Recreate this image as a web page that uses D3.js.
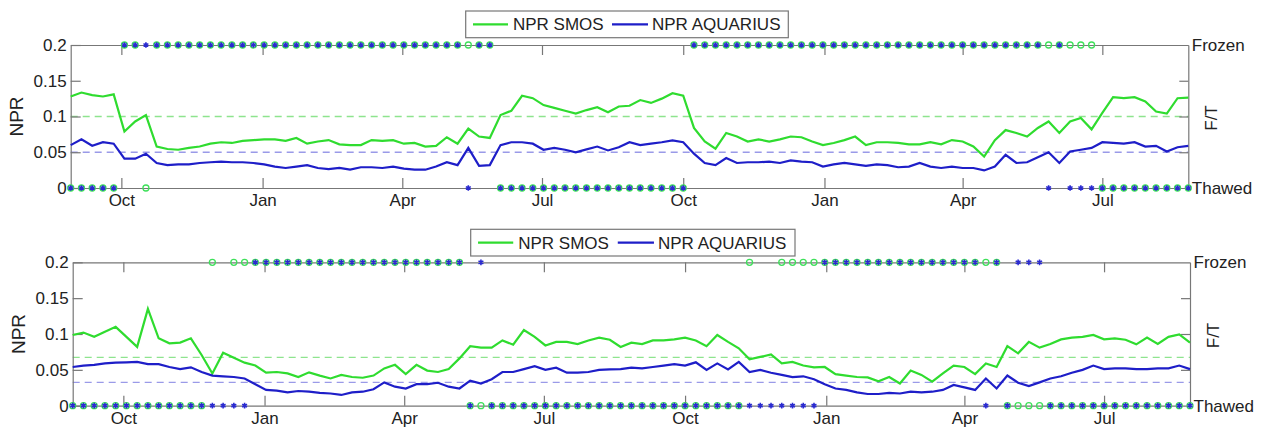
<!DOCTYPE html>
<html>
<head>
<meta charset="utf-8">
<script src="https://cdn.jsdelivr.net/npm/d3@7"></script>
<style>
  body { margin: 0; background: #fff; }
  text { font-family: "Liberation Sans", Arial, sans-serif; fill: #222; }
</style>
</head>
<body>
<svg id="chart"></svg>
<script>
// weekly NPR, Aug 29 2011 .. Aug 26 2013 (105 weeks)
var startDate = new Date(Date.UTC(2011, 7, 29)),
    nWeeks = 105;

// top panel
var smosTop = [0.128,0.1335,0.130,0.128,0.131,0.079,0.093,0.102,0.058,0.0545,
  0.0535,0.056,0.058,0.062,0.064,0.063,0.066,0.067,0.068,0.068,
  0.066,0.070,0.062,0.065,0.067,0.061,0.060,0.060,0.067,0.066,
  0.067,0.062,0.063,0.058,0.059,0.071,0.062,0.083,0.072,0.070,
  0.102,0.108,0.129,0.1256,0.116,0.112,0.108,0.104,0.109,0.113,
  0.106,0.114,0.115,0.123,0.119,0.125,0.1325,0.129,0.084,0.065,
  0.055,0.077,0.072,0.065,0.068,0.065,0.068,0.072,0.071,0.065,
  0.060,0.063,0.067,0.072,0.060,0.064,0.064,0.063,0.061,0.061,
  0.064,0.061,0.067,0.065,0.058,0.044,0.067,0.081,0.077,0.072,
  0.084,0.093,0.077,0.093,0.098,0.082,0.105,0.127,0.1256,0.127,
  0.121,0.107,0.104,0.1256,0.1265];
var aquaTop = [0.060,0.068,0.059,0.064,0.062,0.041,0.041,0.048,0.035,0.032,
  0.033,0.033,0.035,0.036,0.037,0.036,0.036,0.035,0.033,0.030,
  0.028,0.030,0.032,0.028,0.0265,0.028,0.0256,0.029,0.029,0.028,
  0.030,0.027,0.0256,0.0256,0.030,0.036,0.032,0.056,0.031,0.032,
  0.060,0.064,0.064,0.062,0.0535,0.056,0.0535,0.050,0.054,0.058,
  0.0525,0.057,0.064,0.060,0.062,0.064,0.0665,0.064,0.048,0.035,
  0.032,0.042,0.035,0.036,0.036,0.037,0.035,0.0386,0.037,0.036,
  0.030,0.033,0.035,0.033,0.031,0.033,0.032,0.029,0.030,0.035,
  0.030,0.028,0.030,0.028,0.028,0.0246,0.030,0.0465,0.035,0.036,
  0.043,0.050,0.035,0.051,0.0535,0.056,0.064,0.063,0.062,0.064,
  0.058,0.059,0.051,0.057,0.059];

// bottom panel
var smosBot = [0.0986,0.102,0.096,0.103,0.110,0.096,0.082,0.135,0.094,0.087,
  0.088,0.094,0.0707,0.045,0.074,0.067,0.060,0.056,0.046,0.047,
  0.045,0.040,0.0465,0.042,0.038,0.043,0.040,0.039,0.042,0.052,
  0.057,0.044,0.057,0.049,0.047,0.051,0.066,0.083,0.081,0.081,
  0.091,0.085,0.1056,0.096,0.084,0.089,0.089,0.086,0.091,0.095,
  0.092,0.082,0.088,0.086,0.091,0.091,0.0925,0.095,0.091,0.083,
  0.0986,0.089,0.080,0.0646,0.068,0.0716,0.059,0.061,0.056,0.0535,
  0.054,0.044,0.042,0.040,0.0395,0.034,0.040,0.031,0.049,0.043,
  0.0335,0.045,0.056,0.054,0.044,0.059,0.054,0.083,0.073,0.089,
  0.081,0.086,0.0925,0.095,0.096,0.0986,0.0925,0.094,0.092,0.0856,
  0.095,0.086,0.096,0.0995,0.088];
var aquaBot = [0.054,0.056,0.057,0.059,0.060,0.0605,0.061,0.058,0.058,0.054,
  0.051,0.0535,0.047,0.042,0.041,0.040,0.038,0.030,0.022,0.021,
  0.0186,0.0205,0.0195,0.018,0.017,0.015,0.0186,0.0195,0.023,0.0325,
  0.0265,0.024,0.030,0.030,0.032,0.0265,0.024,0.035,0.031,0.037,
  0.047,0.047,0.051,0.055,0.050,0.053,0.046,0.046,0.047,0.050,
  0.0507,0.051,0.053,0.052,0.054,0.056,0.058,0.056,0.0605,0.050,
  0.059,0.0507,0.061,0.047,0.050,0.046,0.043,0.040,0.041,0.037,
  0.030,0.024,0.022,0.0186,0.0163,0.0163,0.018,0.017,0.0195,0.0186,
  0.0195,0.022,0.029,0.0256,0.022,0.038,0.024,0.042,0.032,0.0274,
  0.0325,0.038,0.041,0.046,0.050,0.056,0.051,0.052,0.052,0.051,
  0.051,0.052,0.052,0.056,0.051];

// freeze/thaw flags as runs of weeks: F frozen, T thawed, - none
var ftSmosTop = [["T",5],["F",2],["T",1],["F",32],["T",18],["F",38],["T",9]];
var ftAquaTop = [["T",5],["F",32],["T",1],["F",2],["T",18],["F",33],["T",1],["F",1],["T",12]];
var ftSmosBot = [["T",13],["F",1],["-",1],["F",22],["T",26],["F",1],["-",2],["F",21],["T",18]];
var ftAquaBot = [["T",17],["F",20],["T",1],["F",1],["T",31],["F",15],["T",1],["F",1],["T",1],["F",3],["T",14]];

// NPR thresholds (dashed)
var thrTop = [0.1, 0.05],
    thrBot = [0.0675, 0.0326];

var yTicks = [0, 0.05, 0.1, 0.15, 0.2];
var seriesNames = ["NPR SMOS", "NPR AQUARIUS"];

var green = "#2fdc2f", blue = "#1e1ec8";

var width = 1263, height = 429;
var svg = d3.select("#chart").attr("width", width).attr("height", height);

var dates = d3.range(nWeeks).map(function(i) { return d3.utcDay.offset(startDate, 7 * i); });

function expand(runs) {
  var out = [];
  runs.forEach(function(r) { for (var k = 0; k < r[1]; k++) out.push(r[0]); });
  return out;
}

var panels = [
  {top: 45, bottom: 188, left: 70.7, right: 1188.3, smos: smosTop, aqua: aquaTop,
   ftS: ftSmosTop, ftA: ftAquaTop, thr: thrTop, leg: [465.7, 11, 322.6, 26.7]},
  {top: 262.3, bottom: 405.7, left: 72.7, right: 1190, smos: smosBot, aqua: aquaBot,
   ftS: ftSmosBot, ftA: ftAquaBot, thr: thrBot, leg: [470.7, 229.3, 324.3, 26.7]}
];

panels.forEach(function(p) {
  var x = d3.scaleUtc().domain([dates[0], dates[nWeeks - 1]]).range([p.left, p.right]);
  var y = d3.scaleLinear().domain([0, 0.2]).range([p.bottom, p.top]);
  var g = svg.append("g");
  // quarter starts: Jan, Apr, Jul, Oct
  var months = d3.utcMonth.every(3).range(dates[0], dates[nWeeks - 1]);

  // dashed thresholds
  [green, blue].forEach(function(c, k) {
    g.append("line")
      .attr("x1", p.left).attr("x2", p.right)
      .attr("y1", y(p.thr[k])).attr("y2", y(p.thr[k]))
      .attr("stroke", k ? "#9a9ae8" : "#8ee48e")
      .attr("stroke-width", 1.3)
      .attr("stroke-dasharray", "7,5");
  });

  // axes
  g.append("g").attr("transform", "translate(" + p.left + ",0)")
    .call(d3.axisLeft(y).tickValues(yTicks).tickSizeInner(-10).tickSizeOuter(0)
      .tickPadding(4).tickFormat(d3.format("~g")));
  g.append("g").attr("transform", "translate(" + p.right + ",0)")
    .call(d3.axisRight(y).tickValues([0.05, 0.1, 0.15]).tickSizeInner(-9).tickSizeOuter(0).tickFormat(""));
  g.append("g").attr("transform", "translate(0," + p.bottom + ")")
    .call(d3.axisBottom(x).tickValues(months).tickSizeInner(-10).tickSizeOuter(0)
      .tickPadding(6.2).tickFormat(d3.utcFormat("%b")));
  g.append("g").attr("transform", "translate(0," + p.top + ")")
    .call(d3.axisTop(x).tickValues(months).tickSizeInner(-10).tickSizeOuter(0).tickFormat(""));
  g.selectAll(".domain, .tick line").attr("stroke", "#777").attr("stroke-width", 1.2);
  g.selectAll(".tick text").style("font-size", "17px").attr("fill", "#222");

  // lines
  var line = d3.line().x(function(d, i) { return x(dates[i]); }).y(function(d) { return y(d); });
  g.append("path").datum(p.smos).attr("d", line)
    .attr("fill", "none").attr("stroke", green).attr("stroke-width", 2.2);
  g.append("path").datum(p.aqua).attr("d", line)
    .attr("fill", "none").attr("stroke", blue).attr("stroke-width", 2.2);

  // freeze/thaw markers
  var fs = expand(p.ftS), fa = expand(p.ftA);
  function fy(s) { return s === "F" ? y(0.2) : y(0); }
  g.selectAll(".ms").data(d3.range(nWeeks).filter(function(i) { return fs[i] !== "-"; }))
    .enter().append("circle")
      .attr("cx", function(i) { return x(dates[i]); })
      .attr("cy", function(i) { return fy(fs[i]); })
      .attr("r", 3)
      .attr("fill", "none").attr("stroke", "#3ee05a").attr("stroke-width", 1.3);
  g.selectAll(".ma").data(d3.range(nWeeks).filter(function(i) { return fa[i] !== "-"; }))
    .enter().append("path")
      .attr("d", d3.symbol(d3.symbolAsterisk, 22))
      .attr("transform", function(i) { return "translate(" + x(dates[i]) + "," + fy(fa[i]) + ")"; })
      .attr("fill", "none").attr("stroke", "#2a2ad0").attr("stroke-width", 1.6);

  // labels
  g.append("text").attr("transform", "translate(" + (p.left - 47.5) + "," + ((p.top + p.bottom) / 2) + ") rotate(-90)")
    .attr("text-anchor", "middle").style("font-size", "19px").text("NPR");
  g.append("text").attr("transform", "translate(" + (p.right + 28.5) + "," + ((p.top + p.bottom) / 2 + 1.5) + ") rotate(-90)")
    .attr("text-anchor", "middle").style("font-size", "17px").text("F/T");
  g.append("text").attr("x", p.right + 3.5).attr("y", p.top).attr("dy", "0.35em")
    .style("font-size", "17px").text("Frozen");
  g.append("text").attr("x", p.right + 3.5).attr("y", p.bottom).attr("dy", "0.35em")
    .style("font-size", "17px").text("Thawed");

  // legend
  var L = p.leg, k = L[2] / 322.6;
  var lg = g.append("g").attr("transform", "translate(" + L[0] + "," + L[1] + ")");
  lg.append("rect").attr("width", L[2]).attr("height", L[3])
    .attr("fill", "#fff").attr("stroke", "#777").attr("stroke-width", 1.2);
  [[7.3, 42.3, 47.3], [146.3, 182.3, 186.3]].forEach(function(o, j) {
    lg.append("line").attr("x1", o[0] * k).attr("x2", o[1] * k)
      .attr("y1", L[3] / 2).attr("y2", L[3] / 2)
      .attr("stroke", j ? blue : green).attr("stroke-width", 2.2);
    lg.append("text").attr("x", o[2] * k).attr("y", L[3] / 2).attr("dy", "0.36em")
      .style("font-size", "17px").text(seriesNames[j]);
  });
});
</script>
</body>
</html>
